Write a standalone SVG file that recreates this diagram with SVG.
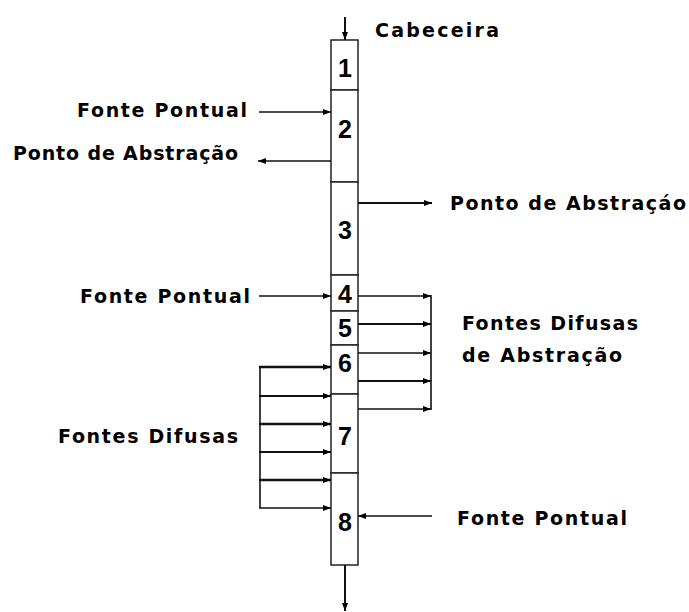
<svg xmlns="http://www.w3.org/2000/svg" width="689" height="612" viewBox="0 0 689 612">
<defs>
<style>
.lbl{font-family:"DejaVu Sans","Liberation Sans",sans-serif;font-weight:bold;font-size:19px;fill:#000}
.num{font-family:"Liberation Sans",Arial,sans-serif;font-weight:bold;font-size:25px;fill:#000;text-anchor:middle}
.box{fill:#fff;stroke:#222;stroke-width:1.5}
.ln{stroke:#111;stroke-width:1.6;fill:none}
.th{stroke:#111;stroke-width:2.6;fill:none}
.md{stroke:#111;stroke-width:2;fill:none}
</style>
<marker id="ah" markerUnits="userSpaceOnUse" markerWidth="8" markerHeight="8" viewBox="0 0 8 8" refX="8" refY="4" orient="auto"><path d="M0,1 L8,4 L0,7 z" fill="#000"/></marker>
</defs>
<rect width="689" height="612" fill="#fff"/>

<g id="col">
<g id="seg1"><rect class="box" x="331" y="40" width="27" height="50"/><text class="num" x="345" y="77">1</text></g>
<g id="seg2"><rect class="box" x="331" y="90" width="27" height="92"/><text class="num" x="345" y="138">2</text></g>
<g id="seg3"><rect class="box" x="331" y="182" width="27" height="93"/><text class="num" x="345" y="239">3</text></g>
<g id="seg4"><rect class="box" x="331" y="275" width="27" height="36"/><text class="num" x="345" y="303">4</text></g>
<g id="seg5"><rect class="box" x="331" y="311" width="27" height="34"/><text class="num" x="345" y="337">5</text></g>
<g id="seg6"><rect class="box" x="331" y="345" width="27" height="49"/><text class="num" x="345" y="372">6</text></g>
<g id="seg7"><rect class="box" x="331" y="394" width="27" height="79"/><text class="num" x="345" y="445">7</text></g>
<g id="seg8"><rect class="box" x="331" y="473" width="27" height="92"/><text class="num" x="345" y="531">8</text></g>
</g>

<g id="labels">
<text class="lbl" x="375" y="37" textLength="124" lengthAdjust="spacing">Cabeceira</text>
<text class="lbl" x="77" y="117" textLength="170" lengthAdjust="spacing">Fonte Pontual</text>
<text class="lbl" x="13" y="160" textLength="225" lengthAdjust="spacing">Ponto de Abstração</text>
<text class="lbl" x="450" y="210" textLength="236" lengthAdjust="spacing">Ponto de Abstraçáo</text>
<text class="lbl" x="80" y="303" textLength="170" lengthAdjust="spacing">Fonte Pontual</text>
<text class="lbl" x="462" y="330" textLength="176" lengthAdjust="spacing">Fontes Difusas</text>
<text class="lbl" x="462" y="362" textLength="160" lengthAdjust="spacing">de Abstração</text>
<text class="lbl" x="58" y="443" textLength="180" lengthAdjust="spacing">Fontes Difusas</text>
<text class="lbl" x="457" y="525" textLength="170" lengthAdjust="spacing">Fonte Pontual</text>
</g>

<g id="connectors">
<line class="md" x1="345" y1="17" x2="345" y2="40" marker-end="url(#ah)"/>
<line class="md" x1="345" y1="565" x2="345" y2="611" marker-end="url(#ah)"/>
<line class="ln" x1="259" y1="112" x2="331" y2="112" marker-end="url(#ah)"/>
<line class="ln" x1="331" y1="161" x2="258" y2="161" marker-end="url(#ah)"/>
<line class="md" x1="358" y1="203" x2="432" y2="203" marker-end="url(#ah)"/>
<line class="ln" x1="259" y1="296" x2="331" y2="296" marker-end="url(#ah)"/>
<line class="ln" x1="432" y1="516" x2="358" y2="516" marker-end="url(#ah)"/>

<line class="ln" x1="431" y1="295" x2="431" y2="410"/>
<line class="ln" x1="358" y1="296" x2="431" y2="296" marker-end="url(#ah)"/>
<line class="md" x1="358" y1="324" x2="431" y2="324" marker-end="url(#ah)"/>
<line class="ln" x1="358" y1="353" x2="431" y2="353" marker-end="url(#ah)"/>
<line class="md" x1="358" y1="381" x2="431" y2="381" marker-end="url(#ah)"/>
<line class="ln" x1="358" y1="409" x2="431" y2="409" marker-end="url(#ah)"/>

<line class="ln" x1="260" y1="367" x2="260" y2="508"/>
<line class="th" x1="259" y1="367" x2="331" y2="367" marker-end="url(#ah)"/>
<line class="md" x1="259" y1="396" x2="331" y2="396" marker-end="url(#ah)"/>
<line class="th" x1="259" y1="424" x2="331" y2="424" marker-end="url(#ah)"/>
<line class="md" x1="259" y1="452" x2="331" y2="452" marker-end="url(#ah)"/>
<line class="th" x1="259" y1="480" x2="331" y2="480" marker-end="url(#ah)"/>
<line class="ln" x1="259" y1="508" x2="331" y2="508" marker-end="url(#ah)"/>
</g>
</svg>
